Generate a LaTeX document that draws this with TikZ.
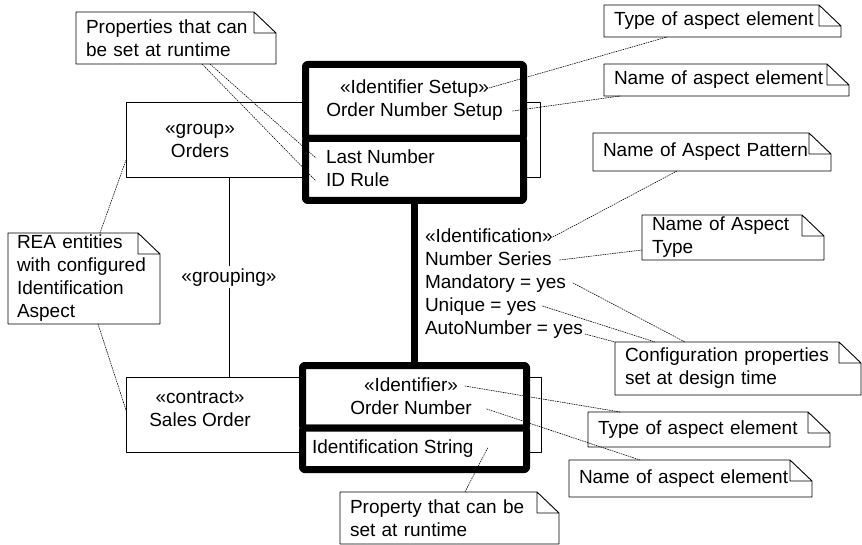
\documentclass[tikz,border=0pt]{standalone}
\usepackage{fontspec}
\setmainfont{Liberation Sans}
\usetikzlibrary{positioning}
\newcommand\diafont{\fontsize{19}{23}\selectfont}
\newcommand\notefold[1]{%
	\draw[noteborder] (#1.north west) -- ([xshift=-22pt]#1.north east) -- ([yshift=-21pt]#1.north east) -- (#1.south east) -- (#1.south west) -- cycle
	([xshift=-22pt]#1.north east) |- ([yshift=-21pt]#1.north east);}
\tikzset{
	noteborder/.style={line width=0.9pt},
	umlnote/.style={anchor=north west, inner xsep=10pt, inner ysep=0pt, outer sep=0pt, align=left, font=\diafont},
	txt/.style={inner sep=0pt, outer sep=0pt, text height=17pt, text depth=6pt, font=\diafont},
	thinbox/.style={draw, line width=1pt, fill=white, outer sep=0pt},
	aspectbox/.style={draw, line width=7pt, fill=white, rounded corners=2pt, outer sep=0pt},
	aspectlink/.style={line width=7pt},
	noteline/.style={line width=0.6pt, dash pattern=on 1.2pt off 1.2pt},
}
\begin{document}
\begin{tikzpicture}[x=1pt, y=-1pt, line cap=round, line join=round]
	\useasboundingbox (0,0) rectangle (862,545);
	% REA entities
	\node[thinbox, minimum width=414pt, minimum height=75pt] (orders) at (333,140.5) {};
	\node[thinbox, minimum width=415pt, minimum height=75pt] (sales) at (333.5,414.5) {};
	\node[txt] (ordersStereo) at (200,129) {«group»};
	\node[txt, below=0pt of ordersStereo] (ordersName) {Orders};
	\node[txt] (salesStereo) at (200,398) {«contract»};
	\node[txt, below=0pt of salesStereo] (salesName) {Sales Order};
	\node[txt, fill=white, inner xsep=2pt] (grouping) at (229,277) {«grouping»};
	\draw[line width=1pt] (orders.south -| grouping) -- (grouping) -- (sales.north -| grouping);
	% aspect elements
	\node[aspectbox, minimum width=218pt, minimum height=74pt] (setupHead) at (414.5,101.5) {};
	\node[aspectbox, minimum width=218pt, minimum height=62pt, below=0pt of setupHead] (setupBody) {};
	\node[aspectbox, minimum width=224pt, minimum height=62.5pt] (identHead) at (414.5,396.75) {};
	\node[aspectbox, minimum width=224pt, minimum height=41.5pt, below=0pt of identHead] (identBody) {};
	\draw[aspectlink] (setupBody) -- (identHead);
	\node[txt] (setupStereo) at (414.5,88) {«Identifier Setup»};
	\node[txt, below=0pt of setupStereo] (setupName) {Order Number Setup};
	\node[txt, anchor=west] (lastNo) at (326,158) {Last Number};
	\node[txt, below=0pt of lastNo.south west, anchor=north west] (idRule) {ID Rule};
	\node[txt] (identStereo) at (411,386) {«Identifier»};
	\node[txt, below=0pt of identStereo] (ordNo) {Order Number};
	\node[txt, anchor=west] (idString) at (312,448) {Identification String};
	\node[txt, anchor=west] (aspStereo) at (425,237) {«Identification»};
	\node[txt, below=0pt of aspStereo.south west, anchor=north west] (aspName) {Number Series};
	\node[txt, below=0pt of aspName.south west, anchor=north west] (mandatory) {Mandatory = yes};
	\node[txt, below=0pt of mandatory.south west, anchor=north west] (unique) {Unique = yes};
	\node[txt, below=0pt of unique.south west, anchor=north west] (autoNo) {AutoNumber = yes};
	% notes
	\node[umlnote, minimum width=200pt, minimum height=52pt, text width=180pt] (nProps) at (76,12) {Properties that can\\be set at runtime};
	\node[umlnote, minimum width=237pt, minimum height=32pt, text width=217pt] (nTypeTop) at (604,5) {Type of aspect element};
	\node[umlnote, minimum width=245pt, minimum height=32pt, text width=225pt] (nNameTop) at (604,64) {Name of aspect element};
	\node[umlnote, minimum width=238pt, minimum height=38pt, text width=218pt] (nPattern) at (593,133) {Name of Aspect Pattern};
	\node[umlnote, minimum width=182pt, minimum height=45pt, text width=162pt] (nAspType) at (642,215) {Name of Aspect\\Type};
	\node[umlnote, minimum width=246pt, minimum height=53pt, text width=226pt] (nConfig) at (615,342) {Configuration properties\\set at design time};
	\node[umlnote, minimum width=242pt, minimum height=35pt, text width=222pt] (nTypeBot) at (588,412) {Type of aspect element};
	\node[umlnote, minimum width=243pt, minimum height=37pt, text width=223pt] (nNameBot) at (569,460) {Name of aspect element};
	\node[umlnote, minimum width=219pt, minimum height=52pt, text width=199pt] (nProperty) at (340,492) {Property that can be\\set at runtime};
	\node[umlnote, inner xsep=9pt, minimum width=152pt, minimum height=91pt, text width=134pt] (nREA) at (8,233) {REA entities\\with configured\\Identification\\Aspect};
	\notefold{nProps}
	\notefold{nTypeTop}
	\notefold{nNameTop}
	\notefold{nPattern}
	\notefold{nAspType}
	\notefold{nConfig}
	\notefold{nTypeBot}
	\notefold{nNameBot}
	\notefold{nProperty}
	\notefold{nREA}
	% note links
	\draw[noteline] ([xshift=134pt]nProps.south west) -- ([xshift=-10pt]lastNo.west);
	\draw[noteline] ([xshift=126pt]nProps.south west) -- ([xshift=-10pt]idRule.west);
	\draw[noteline] ([xshift=92pt]nREA.north west) -- ([yshift=-19.5pt]orders.west);
	\draw[noteline] ([xshift=90pt]nREA.south west) -- ([yshift=4.5pt]sales.west);
	\draw[noteline] (setupStereo.east) -- ([xshift=63pt]nTypeTop.south west);
	\draw[noteline] ([xshift=10pt]setupName.east) -- ([xshift=16pt]nNameTop.south west);
	\draw[noteline] (aspStereo.east) -- ([xshift=84pt]nPattern.south west);
	\draw[noteline] ([xshift=8pt]aspName.east) -- ([yshift=-12.5pt]nAspType.west);
	\draw[noteline] ([xshift=7pt]mandatory.east) -- ([xshift=70pt]nConfig.north west);
	\draw[noteline] ([xshift=6pt]unique.east) -- ([xshift=40pt]nConfig.north west);
	\draw[noteline] ([shift={(2pt,-5pt)}]autoNo.east) -- (nConfig.north west);
	\draw[noteline] ([xshift=7pt]identStereo.east) -- ([xshift=32pt]nTypeBot.north west);
	\draw[noteline] ([xshift=15pt]ordNo.east) -- ([xshift=71pt]nNameBot.north west);
	\draw[noteline] ([xshift=14pt]idString.east) -- ([xshift=125pt]nProperty.north west);
\end{tikzpicture}
\end{document}
